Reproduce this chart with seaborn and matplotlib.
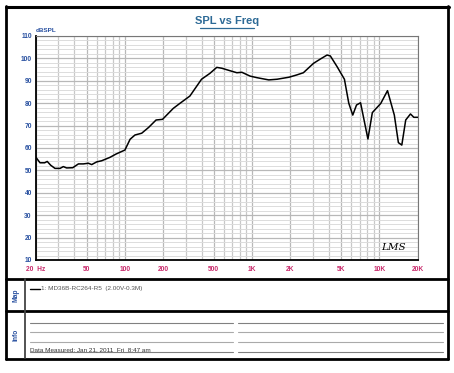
import numpy as np
import pandas as pd
import seaborn as sns
import matplotlib.pyplot as plt
from matplotlib.lines import Line2D
from matplotlib.ticker import FixedLocator, NullFormatter

sns.set_style("white")
plt.rcParams['font.family'] = ['Liberation Sans', 'DejaVu Sans']

# Данные АЧХ
freq = [20, 21.5, 23.4, 24.5, 26.1, 28.2, 30.9, 32.8, 34.8, 38.9, 43.1, 47.1, 51.6, 54.8,
        60, 65.6, 76.1, 85.1, 100, 109.8, 119.9, 135.5, 153.6, 175.7, 197.5, 240, 270,
        324, 400, 465, 527, 578, 670, 758, 830, 963, 1090, 1350, 1571, 1947, 2236, 2526,
        3036, 3431, 3878, 4115, 4651, 5310, 5745, 6176, 6610, 7110, 8125, 8800, 10250,
        11580, 13100, 14100, 15000, 16100, 17550, 18650, 20000]
spl = [55.8, 53.4, 53.4, 54.0, 52.3, 50.9, 50.9, 51.7, 51.1, 51.2, 52.9, 52.9, 53.2, 52.6,
       53.8, 54.3, 55.8, 57.3, 59.1, 63.9, 65.8, 66.6, 69.2, 72.5, 72.8, 77.7, 79.9,
       83.2, 90.7, 93.3, 96.0, 95.6, 94.5, 93.6, 93.8, 92.1, 91.4, 90.4, 90.7, 91.6, 92.6, 93.6,
       97.8, 99.7, 101.5, 101.1, 96.3, 90.7, 80.0, 74.7, 79.2, 80.2, 64.0, 75.8, 79.9,
       85.6, 74.7, 62.4, 61.3, 72.5, 75.2, 73.7, 73.7]

x_ticks = [20, 50, 100, 200, 500, 1000, 2000, 5000, 10000, 20000]
x_labels = ['20  Hz', '50', '100', '200', '500', '1K', '2K', '5K', '10K', '20K']
y_ticks = [10, 20, 30, 40, 50, 60, 70, 80, 90, 100, 110]

df = pd.DataFrame({'freq': freq, 'spl': spl})

W, H = 454, 373
fig = plt.figure(figsize=(W / 100, H / 100), dpi=100)


def fx(px):
    return px / W


def fy(py):
    return 1 - py / H


ax = fig.add_axes([fx(36), fy(260), fx(417.7) - fx(36), fy(36) - fy(260)])
sns.lineplot(data=df, x='freq', y='spl', ax=ax, color='black', linewidth=1.1,
             estimator=None, zorder=5)
ax.set_xscale('log')
ax.set_xlim(20, 20000)
ax.set_ylim(10, 110)
ax.set_xlabel('')
ax.set_ylabel('')

# сетка
minor_x = [m * d for d in (10, 100, 1000, 10000) for m in range(1, 10)]
minor_x = [v for v in minor_x if 20 < v < 20000 and v not in x_ticks]
ax.xaxis.set_major_locator(FixedLocator(x_ticks))
ax.xaxis.set_minor_locator(FixedLocator(minor_x))
ax.xaxis.set_minor_formatter(NullFormatter())
ax.set_xticklabels(x_labels)
ax.yaxis.set_major_locator(FixedLocator(y_ticks))
ax.yaxis.set_minor_locator(FixedLocator(list(range(12, 110, 2))))
ax.grid(which='major', axis='both', color='#b8b8b8', linewidth=0.9)
ax.grid(which='minor', axis='x', color='#c8c8c8', linewidth=0.9)
ax.grid(which='minor', axis='y', color='#dcdcdc', linewidth=0.7)
ax.tick_params(which='both', length=0)
ax.tick_params(axis='x', labelsize=4.8, colors='#c8286a', pad=4)
ax.tick_params(axis='y', labelsize=4.8, colors='#2850a0', pad=3)
for lab in ax.get_xticklabels() + ax.get_yticklabels():
    lab.set_fontweight('bold')
for s in ('left', 'bottom'):
    ax.spines[s].set_color('black')
    ax.spines[s].set_linewidth(1.3)
for s in ('top', 'right'):
    ax.spines[s].set_color('#777777')
    ax.spines[s].set_linewidth(0.8)

ax.text(0.0, 1.012, 'dBSPL', transform=ax.transAxes, fontsize=4.6, color='#2850a0',
        fontweight='bold', ha='left', va='bottom')
ax.text(0.97, 0.035, 'LMS', transform=ax.transAxes, fontsize=7.5, style='italic',
        family='DejaVu Serif', ha='right', va='bottom', color='black')

# заголовок
fig.text(fx(227), fy(21.5), 'SPL vs Freq', ha='center', va='center', fontsize=8,
         fontweight='bold', color='#2d6a96')
fig.add_artist(Line2D([fx(200), fx(254)], [fy(27.5), fy(27.5)], color='#2d6a96', lw=0.9))

# рамки
def hline(y, x0, x1, c='black', lw=2.0):
    fig.add_artist(Line2D([fx(x0), fx(x1)], [fy(y), fy(y)], color=c, lw=lw))


def vline(x, y0, y1, c='black', lw=2.0):
    fig.add_artist(Line2D([fx(x), fx(x)], [fy(y0), fy(y1)], color=c, lw=lw))


hline(6.5, 5.5, 448.5, lw=2.2)
vline(6, 6, 359, lw=2.0)
vline(448, 6, 359, lw=2.0)
hline(279, 6, 448, lw=2.0)
hline(311, 6, 448, lw=2.0)
hline(358.5, 6, 448, lw=2.0)
vline(25, 279, 358, c='#444444', lw=1.3)

# панель Map
fig.text(fx(15.5), fy(295), 'Map', rotation=90, ha='center', va='center', fontsize=4.8,
         fontweight='bold', color='#2850a0')
hline(288.5, 29.5, 39.5, lw=1.0)
fig.text(fx(41), fy(288.5), '1: MD36B-RC264-R5  (2.00V-0.3M)', ha='left', va='center',
         fontsize=4.6, color='#555555')

# панель Info
fig.text(fx(15.5), fy(334.5), 'Info', rotation=90, ha='center', va='center', fontsize=4.8,
         fontweight='bold', color='#2850a0')
for yy, cc in [(322.7, '#808080'), (332.3, '#aaaaaa'), (342.3, '#aaaaaa'), (352, '#808080')]:
    hline(yy, 29.5, 233.5, c=cc, lw=0.8)
    hline(yy, 238, 443, c=cc, lw=0.8)
fig.text(fx(29.5), fy(349.3), 'Data Measured: Jan 21, 2011  Fri  8:47 am', ha='left',
         va='center', fontsize=4.6, color='#333333')

fig.savefig('out.png', dpi=100)
